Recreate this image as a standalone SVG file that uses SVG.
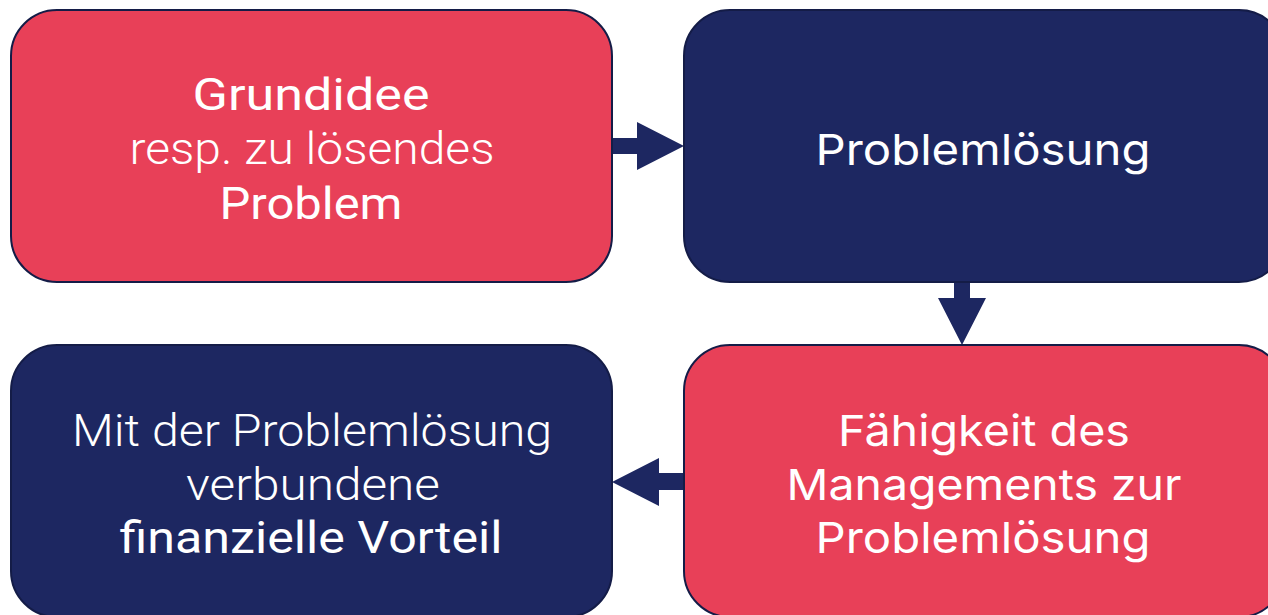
<svg xmlns="http://www.w3.org/2000/svg" width="1268" height="615" viewBox="0 0 1268 615">
<style>
.box{stroke:#141c47;stroke-width:2}
.red{fill:#e84058}
.navy{fill:#1d2761}
.conn{fill:#1d2761}
.t{fill:#ffffff;text-anchor:middle;font-size:44px}
.l{font-family:Roboto,"Liberation Sans",sans-serif;font-weight:300}
.m{font-family:Roboto,"Liberation Sans",sans-serif;font-weight:400}
.g{font-family:Inter,"Liberation Sans",sans-serif;font-weight:400;font-size:43px}
</style>
<rect width="1268" height="615" fill="#ffffff"/>
<g id="connectors">
<polygon class="conn" points="611,138 637,138 637,122 684,146 637,170 637,154 611,154"/>
<polygon class="conn" points="954,281 970,281 970,298 986,298 962,345 938,298 954,298"/>
<polygon class="conn" points="686,473 659,473 659,458 612,482 659,506 659,490 686,490"/>
</g>
<g id="node-grundidee">
<rect class="box red" x="11" y="10" width="601" height="272" rx="46"/>
<text class="t m" x="311" y="110" textLength="237" lengthAdjust="spacingAndGlyphs">Grundidee</text>
<text class="t l" x="312" y="164" textLength="365" lengthAdjust="spacingAndGlyphs">resp. zu lösendes</text>
<text class="t m" x="311" y="219" textLength="183" lengthAdjust="spacingAndGlyphs">Problem</text>
</g>
<g id="node-problemloesung">
<rect class="box navy" x="684" y="10" width="601" height="272" rx="46"/>
<text class="t g" x="983" y="165" textLength="335" lengthAdjust="spacingAndGlyphs">Problemlösung</text>
</g>
<g id="node-faehigkeit">
<rect class="box red" x="684" y="345" width="601" height="272" rx="46"/>
<text class="t g" x="984" y="446" textLength="292" lengthAdjust="spacingAndGlyphs">Fähigkeit des</text>
<text class="t g" x="984" y="500" textLength="395" lengthAdjust="spacingAndGlyphs">Managements zur</text>
<text class="t g" x="983" y="553" textLength="335" lengthAdjust="spacingAndGlyphs">Problemlösung</text>
</g>
<g id="node-vorteil">
<rect class="box navy" x="11" y="345" width="601" height="272" rx="46"/>
<text class="t l" x="312" y="446" textLength="480" lengthAdjust="spacingAndGlyphs">Mit der Problemlösung</text>
<text class="t l" x="313" y="500" textLength="254" lengthAdjust="spacingAndGlyphs">verbundene</text>
<text class="t m" x="311" y="553" textLength="383" lengthAdjust="spacingAndGlyphs">finanzielle Vorteil</text>
</g>
</svg>
